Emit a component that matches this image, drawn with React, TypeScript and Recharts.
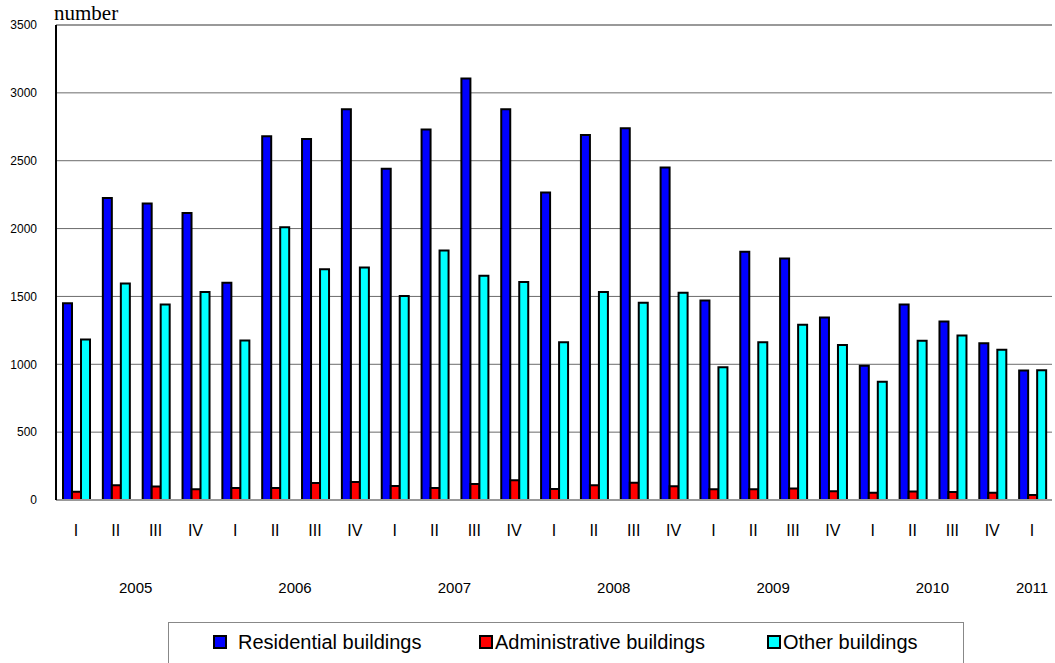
import { Bar, BarChart, CartesianGrid, ReferenceLine, XAxis, YAxis } from "recharts"

const years = ["2005", "2006", "2007", "2008", "2009", "2010", "2011"]
const quarters = [
  "I", "II", "III", "IV",
  "I", "II", "III", "IV",
  "I", "II", "III", "IV",
  "I", "II", "III", "IV",
  "I", "II", "III", "IV",
  "I", "II", "III", "IV",
  "I",
]
const residential = [1450, 2225, 2185, 2115, 1600, 2680, 2660, 2880, 2440, 2730, 3105, 2880, 2265, 2690, 2740, 2450, 1470, 1830, 1780, 1345, 990, 1440, 1315, 1155, 955]
const administrative = [60, 108, 100, 80, 88, 88, 125, 132, 103, 88, 118, 145, 81, 108, 128, 101, 79, 79, 84, 64, 54, 62, 59, 54, 37]
const other = [1182, 1595, 1440, 1532, 1175, 2010, 1700, 1713, 1503, 1838, 1652, 1606, 1162, 1532, 1454, 1527, 978, 1162, 1292, 1143, 871, 1174, 1213, 1108, 956]
const yTicks = [0, 500, 1000, 1500, 2000, 2500, 3000, 3500]

const series = [
  { key: "residential", name: "Residential buildings", color: "#0000ff" },
  { key: "administrative", name: "Administrative buildings", color: "#ff0000" },
  { key: "other", name: "Other buildings", color: "#00ffff" },
]

const W = 1055
const H = 663
const LEFT = 56
const RIGHT = 3
const BAND = (W - LEFT - RIGHT) / quarters.length

const data = quarters.map((q, i) => ({
  period: `${years[Math.floor(i / 4)]}-${q}-${i}`,
  year: years[Math.floor(i / 4)],
  quarter: q,
  residential: residential[i],
  administrative: administrative[i],
  other: other[i],
}))

// first/last index of each year so the year label sits under its quarters
const yearSpan: Record<string, [number, number]> = {}
data.forEach((d, i) => {
  if (!yearSpan[d.year]) yearSpan[d.year] = [i, i]
  else yearSpan[d.year][1] = i
})

const font = "Arial, 'Liberation Sans', sans-serif"

function PeriodTick(props: any) {
  const { x, y, payload } = props
  const idx = Number(String(payload.value).split("-")[2])
  const d = data[idx]
  const span = yearSpan[d.year]
  return (
    <g>
      <text x={x} y={y + 36} textAnchor="middle" fontSize={16} fontFamily={font} fill="#000">
        {d.quarter}
      </text>
      {span[0] === idx && (
        <text
          x={x + ((span[1] - span[0]) * BAND) / 2}
          y={y + 93}
          textAnchor="middle"
          fontSize={15}
          fontFamily={font}
          fill="#000"
        >
          {d.year}
        </text>
      )}
    </g>
  )
}

const legendLeft = [213, 479, 767]
const legendGap = [11, 2, 2]

export default function App() {
  return (
    <div style={{ position: "absolute", left: 0, top: 0, width: W, height: H, background: "#fff", overflow: "hidden" }}>
      <div
        style={{
          position: "absolute",
          left: 54,
          top: 0,
          fontFamily: "'Liberation Serif', 'Times New Roman', serif",
          fontSize: 21,
          lineHeight: "26px",
        }}
      >
        number
      </div>
      <BarChart
        width={W}
        height={H}
        data={data}
        margin={{ top: 25, right: RIGHT, bottom: 63, left: 0 }}
        barCategoryGap={7}
        barGap={0}
      >
        <CartesianGrid vertical={false} stroke="#6b6b6b" strokeWidth={1} />
        <XAxis
          dataKey="period"
          interval={0}
          height={100}
          tickLine={false}
          tickSize={0}
          tickMargin={0}
          axisLine={{ stroke: "#999", strokeWidth: 2 }}
          tick={<PeriodTick />}
        />
        <YAxis
          domain={[0, 3500]}
          ticks={yTicks}
          width={LEFT}
          tickLine={false}
          tickSize={0}
          tickMargin={19}
          axisLine={{ stroke: "#000", strokeWidth: 2 }}
          tick={{ fontSize: 12, fontFamily: font, fill: "#000" }}
        />
        <YAxis
          yAxisId="right"
          orientation="right"
          width={0}
          tick={false}
          tickLine={false}
          axisLine={{ stroke: "#999", strokeWidth: 2 }}
        />
        <ReferenceLine y={3500} stroke="#999" strokeWidth={2} />
        {series.map((s) => (
          <Bar
            key={s.key}
            dataKey={s.key}
            name={s.name}
            fill={s.color}
            stroke="#000"
            strokeWidth={2}
            isAnimationActive={false}
          />
        ))}
      </BarChart>
      <div
        style={{
          position: "absolute",
          left: 168,
          top: 622,
          width: 796,
          height: 60,
          border: "1px solid #888",
          boxSizing: "border-box",
        }}
      />
      {series.map((s, i) => (
        <div
          key={s.key}
          style={{
            position: "absolute",
            left: legendLeft[i],
            top: 630,
            display: "flex",
            alignItems: "center",
            fontFamily: font,
            fontSize: 20,
            lineHeight: "24px",
            whiteSpace: "nowrap",
          }}
        >
          <span
            style={{
              display: "inline-block",
              width: 10,
              height: 10,
              background: s.color,
              border: "2px solid #000",
              marginRight: legendGap[i],
            }}
          />
          {s.name}
        </div>
      ))}
    </div>
  )
}
